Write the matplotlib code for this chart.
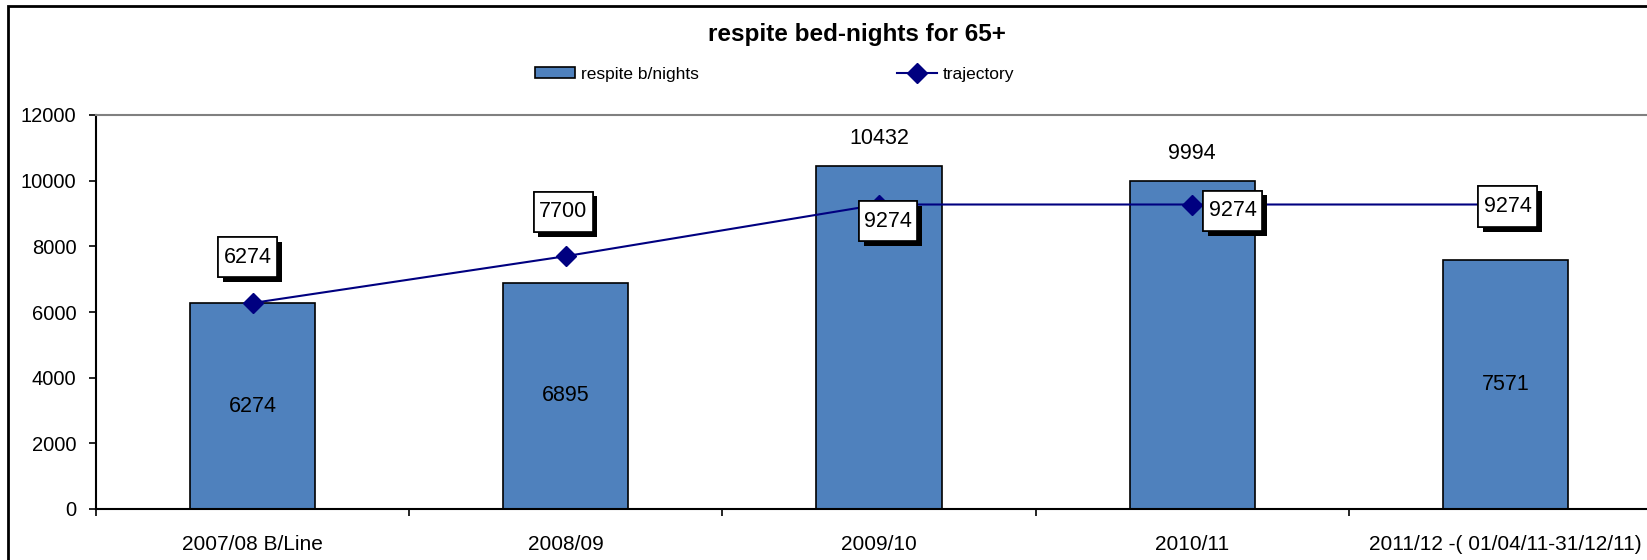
import matplotlib.pyplot as plt
import matplotlib.patheffects as pe
from matplotlib import font_manager
from matplotlib.patches import Rectangle
from matplotlib.path import Path

# chart data
periods = ["2007/08 B/Line", "2008/09", "2009/10", "2010/11",
           "2011/12 -( 01/04/11-31/12/11)"]
bed_nights = [6274, 6895, 10432, 9994, 7571]
trajectory = [6274, 7700, 9274, 9274, 9274]

plt.rcParams['font.family'] = ['Liberation Sans', 'DejaVu Sans']

BAR_COLOR = '#4F81BD'
LINE_COLOR = '#000080'

# legend uses a narrow face when one is installed
installed = {f.name for f in font_manager.fontManager.ttflist}
if 'Liberation Sans Narrow' in installed:
    legend_font = dict(family='Liberation Sans Narrow', size=14.5)
else:
    legend_font = dict(family='Liberation Sans', size=12.5)


class TallBox:
    """Square label box with separate horizontal and vertical padding."""

    def __init__(self, padx=0.25, pady=0.5):
        self.padx = padx
        self.pady = pady

    def __call__(self, x0, y0, width, height, mutation_size):
        px = self.padx * mutation_size
        py = self.pady * mutation_size
        x0, y0 = x0 - px, y0 - py
        x1, y1 = x0 + width + 2 * px, y0 + height + 2 * py
        return Path([(x0, y0), (x1, y0), (x1, y1), (x0, y1), (x0, y0)],
                    closed=True)


fig = plt.figure(figsize=(16.47, 5.6), dpi=100)
# plot area runs past the right edge of the canvas
ax = fig.add_axes([96 / 1647, 51 / 560, 1566 / 1647, 394 / 560])

x = list(range(len(periods)))
bars = ax.bar(x, bed_nights, width=0.4, color=BAR_COLOR, edgecolor='black',
              linewidth=1.2, label='respite b/nights', zorder=2)
line, = ax.plot(x, trajectory, color=LINE_COLOR, linewidth=1.5, marker='D',
                markersize=10.5, label='trajectory', zorder=3)

# bar value labels: centred inside, or above the tallest bars
for i, v in enumerate(bed_nights):
    if i in (2, 3):
        ax.annotate(str(v), (i, v), xytext=(0, 20), textcoords='offset points',
                    ha='center', va='center', fontsize=15.5)
    else:
        ax.text(i, v / 2, str(v), ha='center', va='center', fontsize=15.5)

# boxed trajectory labels with drop shadow
offsets = [(-3.6, 33), (-2, 32), (6.5, -12), (29, -4.5), (1.5, -1.5)]
for i, (v, off) in enumerate(zip(trajectory, offsets)):
    t = ax.annotate(str(v), (i, v), xytext=off, textcoords='offset points',
                    ha='center', va='center', fontsize=15.5, zorder=5,
                    bbox=dict(boxstyle=TallBox(0.25, 0.45), fc='white',
                              ec='black', lw=1.2))
    t.get_bbox_patch().set_path_effects([
        pe.withSimplePatchShadow(offset=(3.5, -3.5), shadow_rgbFace='black',
                                 alpha=1.0),
        pe.Normal()])

ax.set_ylim(0, 12000)
ax.set_yticks(range(0, 12001, 2000))
ax.set_xlim(-0.5, len(periods) - 0.5)
ax.set_xticks(x)
ax.set_xticklabels(periods)
ax.set_xticks([i + 0.5 for i in range(-1, len(periods))], minor=True)
ax.tick_params(axis='x', which='major', length=0, pad=19, labelsize=15)
ax.tick_params(axis='x', which='minor', length=5, width=1.2, direction='out')
ax.tick_params(axis='y', length=5, width=1.2, direction='out', pad=9,
               labelsize=14.5)

ax.spines['left'].set_linewidth(1.5)
ax.spines['bottom'].set_linewidth(1.5)
ax.spines['top'].set_color('#808080')
ax.spines['top'].set_linewidth(1.5)
ax.spines['right'].set_visible(False)

fig.text(857 / 1647, 1 - 35 / 560, 'respite bed-nights for 65+',
         ha='center', va='center', fontsize=17.5, fontweight='bold')

em = legend_font['size'] * 100 / 72
fig.legend(handles=[bars, line], loc='center',
           bbox_to_anchor=(775 / 1647, 1 - 74 / 560), ncol=2,
           frameon=False, prop=legend_font, handlelength=40 / em,
           handleheight=0.6, columnspacing=198 / em, handletextpad=6 / em)

# outer chart border
fig.patches.append(Rectangle((8 / 1647, -0.1), 1.2, 1.1 - 6 / 560,
                             transform=fig.transFigure, fill=False,
                             edgecolor='black', linewidth=2))

fig.savefig('out.png', dpi=100)
